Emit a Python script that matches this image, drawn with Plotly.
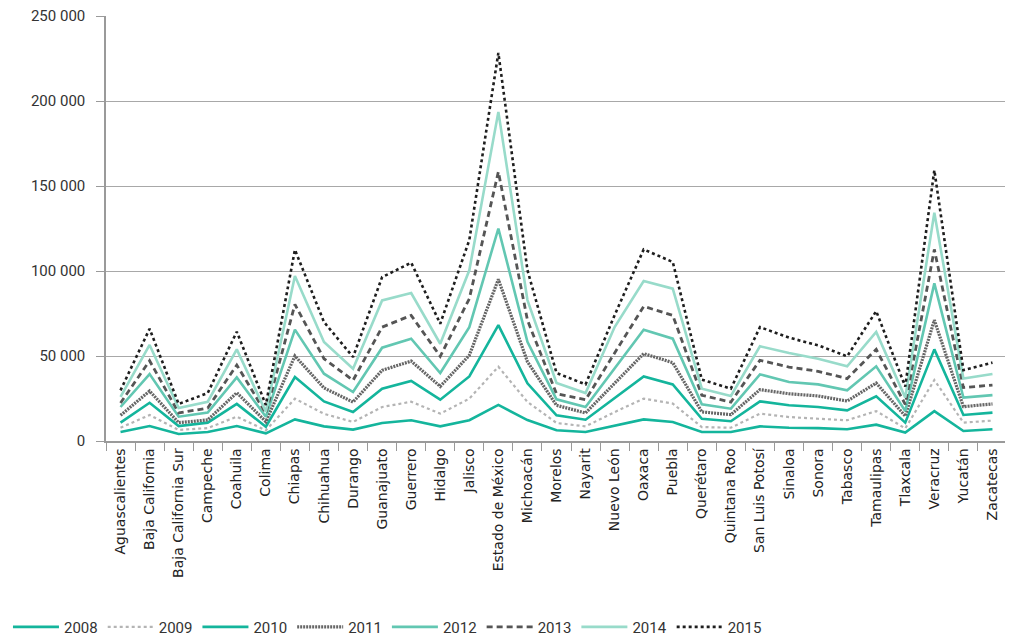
import plotly.graph_objects as go

states = ["Aguascalientes", "Baja California", "Baja California Sur", "Campeche", "Coahuila",
          "Colima", "Chiapas", "Chihuahua", "Durango", "Guanajuato", "Guerrero", "Hidalgo",
          "Jalisco", "Estado de México", "Michoacán", "Morelos", "Nayarit", "Nuevo León",
          "Oaxaca", "Puebla", "Querétaro", "Quintana Roo", "San Luis Potosí", "Sinaloa",
          "Sonora", "Tabasco", "Tamaulipas", "Tlaxcala", "Veracruz", "Yucatán", "Zacatecas"]

y2008 = [5300, 8800, 4100, 5300, 8800, 4500, 12700, 8600, 6700, 10600, 12200, 8600,
         12200, 21200, 12300, 6300, 5300, 9200, 12700, 11200, 5300, 5300, 8600, 7800,
         7600, 6900, 9600, 5000, 17600, 5900, 6900]
y2009 = [7800, 15300, 6500, 7600, 14300, 6300, 24900, 16000, 11200, 20000, 23100, 16100,
         24900, 43700, 23000, 10600, 8600, 17000, 24900, 22000, 8200, 7800, 16100, 14100,
         13100, 12200, 17600, 7400, 35900, 10800, 12000]
y2010 = [10800, 22500, 8800, 10800, 21800, 8400, 37600, 23300, 17100, 30800, 35300, 24300,
         38000, 68200, 33900, 15100, 12500, 25300, 38000, 33300, 13100, 11600, 23300, 21000,
         20000, 18000, 26300, 10800, 53900, 15300, 16700]
y2011 = [15100, 29400, 10800, 12400, 28400, 11400, 50000, 31200, 22900, 41600, 47000, 32100,
         50400, 95100, 46600, 21000, 16500, 33700, 51400, 46100, 17100, 15500, 30200, 27800,
         26500, 23500, 34100, 14700, 71100, 20200, 21800]
y2012 = [20000, 39400, 14300, 16700, 37400, 14300, 65500, 39600, 28800, 54900, 60200, 40000,
         67000, 125000, 58400, 24500, 20000, 42500, 65500, 60200, 21600, 19000, 39200, 34700,
         33300, 29800, 43900, 17600, 92700, 25500, 27000]
y2013 = [22400, 47200, 16500, 19400, 44700, 16300, 80400, 48400, 35700, 67000, 73900, 49800,
         83700, 158400, 71100, 27800, 24300, 51400, 79200, 73900, 26900, 22900, 47500, 43500,
         41000, 36700, 53900, 21500, 112700, 31400, 32900]
y2014 = [25900, 56500, 19400, 23100, 53900, 17200, 97000, 58200, 42500, 82700, 87000, 57200,
         100400, 193600, 82900, 34100, 28200, 67000, 94100, 89600, 30800, 26500, 55700, 51800,
         48400, 43900, 64100, 25500, 134300, 36800, 39400]
y2015 = [29800, 66000, 21800, 28200, 64300, 21200, 112500, 70000, 49400, 96400, 104900, 69000,
         118200, 228300, 100500, 40000, 33300, 74000, 112700, 105300, 36100, 30800, 67000, 60800,
         56300, 49800, 76400, 32000, 159300, 41700, 46100]

years = ["2008", "2009", "2010", "2011", "2012", "2013", "2014", "2015"]
series = [y2008, y2009, y2010, y2011, y2012, y2013, y2014, y2015]
colors = ["#14b59c", "#b4b4b4", "#14b59c", "#666666", "#62c7b2", "#555555", "#98dbca", "#1e1e1e"]
dashes = ["solid", "dot", "solid", "2px,1px", "solid", "6px,4px", "solid", "dot"]
widths = [2.6, 2.2, 2.6, 3.2, 2.6, 2.8, 2.6, 2.6]

ytick_vals = [0, 50000, 100000, 150000, 200000, 250000]
ytick_text = ["0", "50 000", "100 000", "150 000", "200 000", "250 000"]

fig = go.Figure()
for name, vals, c, d, w in zip(years, series, colors, dashes, widths):
    fig.add_trace(go.Scatter(x=states, y=vals, mode="lines", name=name,
                             line=dict(color=c, dash=d, width=w)))

fig.update_layout(
    width=1005, height=628,
    margin=dict(l=98, r=6, t=8, b=195, autoexpand=False),
    plot_bgcolor="white", paper_bgcolor="white",
    font=dict(family="Roboto", size=15, color="#333333"),
    showlegend=True,
    legend=dict(orientation="h", x=-0.1088, xanchor="left", y=-0.399, yanchor="top",
                font=dict(family="Roboto", size=15, color="#333333"),
                itemwidth=46, tracegroupgap=0, bgcolor="rgba(0,0,0,0)"),
)
fig.update_xaxes(
    type="category", tickangle=-90, tickson="boundaries", ticks="outside", ticklen=8,
    tickcolor="#9a9a9a", showline=True, linecolor="#9a9a9a", linewidth=1.5,
    showgrid=False, tickfont=dict(family="DejaVu Sans", size=14, color="#222222"),
    range=[-0.5, len(states) - 0.5], automargin=False,
)
fig.update_yaxes(
    range=[0, 250000], tickvals=ytick_vals, ticktext=ytick_text,
    showgrid=True, gridcolor="#a8a8a8", gridwidth=1.2, zeroline=False,
    showline=True, linecolor="#9a9a9a", linewidth=1.5,
    ticks="outside", ticklen=8, tickcolor="#9a9a9a", automargin=False,
    ticklabelstandoff=8, ticklabeloverflow="allow",
    tickfont=dict(family="Roboto", size=15, color="#333333"),
)

fig.write_html("out.html")
